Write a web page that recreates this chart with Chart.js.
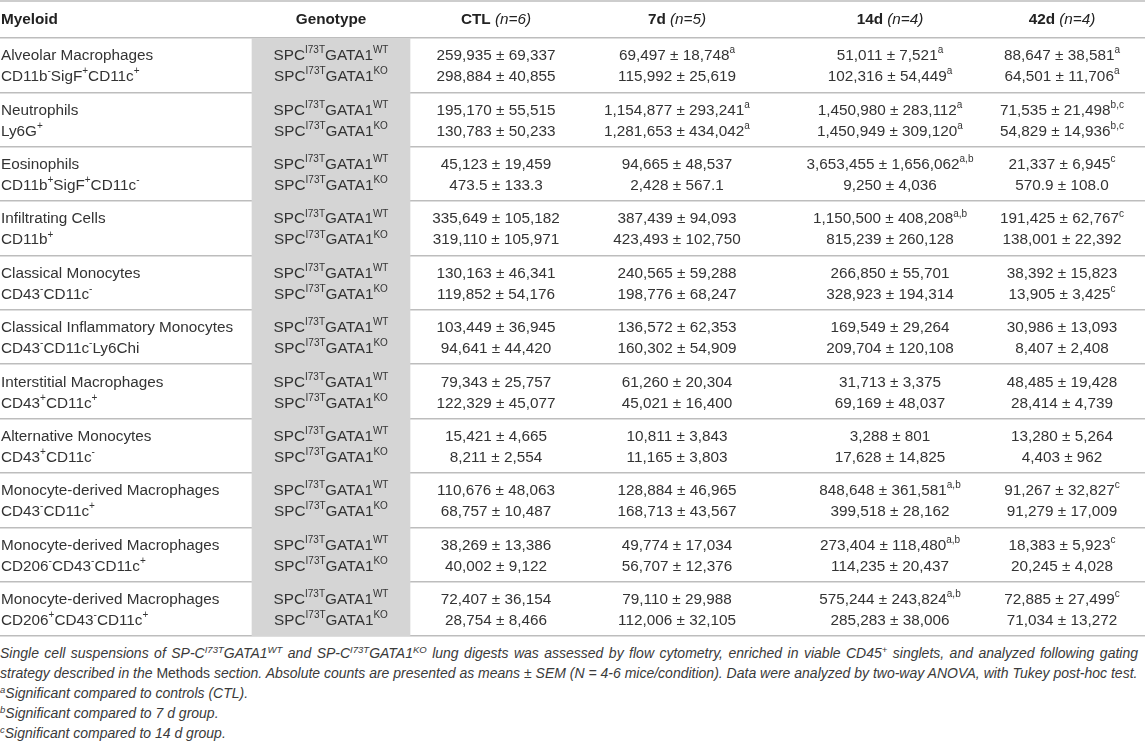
<!DOCTYPE html>
<html lang="en">
<head>
  <meta charset="UTF-8" />
  <title>Myeloid cell counts</title>
  <script src="https://cdn.jsdelivr.net/npm/chart.js"></script>
  <style>
    body { margin: 0; background: #fff; font-family: "Liberation Sans", Arial, sans-serif; }
    .wrap { position: relative; width: 1145px; height: 640px; }
    .caption { margin-top: 3px; width: 1138px; font-size: 14px; line-height: 20px; color: #3a3a3a; white-space: nowrap; }
    .caption .just { white-space: normal; text-align: justify; text-align-last: justify; }
    .caption sup { font-size: 0.68em; line-height: 0; vertical-align: 0.55em; font-style: italic; }
  </style>
</head>
<body>
  <div class="wrap"><canvas id="table"></canvas></div>
  <div class="caption">
    <div class="just"><i>Single cell suspensions of SP-C<sup>I73T</sup>GATA1<sup>WT</sup> and SP-C<sup>I73T</sup>GATA1<sup>KO</sup> lung digests was assessed by flow cytometry, enriched in viable CD45<sup>+</sup> singlets, and analyzed following gating</i></div>
    <div><i>strategy described in the</i> Methods <i>section. Absolute counts are presented as means ± SEM (N = 4-6 mice/condition). Data were analyzed by two-way ANOVA, with Tukey post-hoc test.</i></div>
    <div><sup>a</sup><i>Significant compared to controls (CTL).</i></div>
    <div><sup>b</sup><i>Significant compared to 7 d group.</i></div>
    <div><sup>c</sup><i>Significant compared to 14 d group.</i></div>
  </div>

  <script>
    // ^{...} marks a superscript
    const populations = ['Alveolar Macrophages', 'Neutrophils', 'Eosinophils', 'Infiltrating Cells',
      'Classical Monocytes', 'Classical Inflammatory Monocytes', 'Interstitial Macrophages',
      'Alternative Monocytes', 'Monocyte-derived Macrophages', 'Monocyte-derived Macrophages',
      'Monocyte-derived Macrophages'];
    const markers = ['CD11b^{-}SigF^{+}CD11c^{+}', 'Ly6G^{+}', 'CD11b^{+}SigF^{+}CD11c^{-}', 'CD11b^{+}',
      'CD43^{-}CD11c^{-}', 'CD43^{-}CD11c^{-}Ly6Chi', 'CD43^{+}CD11c^{+}', 'CD43^{+}CD11c^{-}',
      'CD43^{-}CD11c^{+}', 'CD206^{-}CD43^{-}CD11c^{+}', 'CD206^{+}CD43^{-}CD11c^{+}'];
    const genotypes = ['SPC^{I73T}GATA1^{WT}', 'SPC^{I73T}GATA1^{KO}'];
    const timepoints = ['CTL', '7d', '14d', '42d'];
    const groupN = [6, 5, 4, 4];

    // mean ± SEM, per time point, WT row then KO row
    const ctlWT = ['259,935 ± 69,337', '195,170 ± 55,515', '45,123 ± 19,459', '335,649 ± 105,182', '130,163 ± 46,341',
      '103,449 ± 36,945', '79,343 ± 25,757', '15,421 ± 4,665', '110,676 ± 48,063', '38,269 ± 13,386', '72,407 ± 36,154'];
    const ctlKO = ['298,884 ± 40,855', '130,783 ± 50,233', '473.5 ± 133.3', '319,110 ± 105,971', '119,852 ± 54,176',
      '94,641 ± 44,420', '122,329 ± 45,077', '8,211 ± 2,554', '68,757 ± 10,487', '40,002 ± 9,122', '28,754 ± 8,466'];
    const d7WT = ['69,497 ± 18,748^{a}', '1,154,877 ± 293,241^{a}', '94,665 ± 48,537', '387,439 ± 94,093', '240,565 ± 59,288',
      '136,572 ± 62,353', '61,260 ± 20,304', '10,811 ± 3,843', '128,884 ± 46,965', '49,774 ± 17,034', '79,110 ± 29,988'];
    const d7KO = ['115,992 ± 25,619', '1,281,653 ± 434,042^{a}', '2,428 ± 567.1', '423,493 ± 102,750', '198,776 ± 68,247',
      '160,302 ± 54,909', '45,021 ± 16,400', '11,165 ± 3,803', '168,713 ± 43,567', '56,707 ± 12,376', '112,006 ± 32,105'];
    const d14WT = ['51,011 ± 7,521^{a}', '1,450,980 ± 283,112^{a}', '3,653,455 ± 1,656,062^{a,b}', '1,150,500 ± 408,208^{a,b}',
      '266,850 ± 55,701', '169,549 ± 29,264', '31,713 ± 3,375', '3,288 ± 801', '848,648 ± 361,581^{a,b}',
      '273,404 ± 118,480^{a,b}', '575,244 ± 243,824^{a,b}'];
    const d14KO = ['102,316 ± 54,449^{a}', '1,450,949 ± 309,120^{a}', '9,250 ± 4,036', '815,239 ± 260,128', '328,923 ± 194,314',
      '209,704 ± 120,108', '69,169 ± 48,037', '17,628 ± 14,825', '399,518 ± 28,162', '114,235 ± 20,437', '285,283 ± 38,006'];
    const d42WT = ['88,647 ± 38,581^{a}', '71,535 ± 21,498^{b,c}', '21,337 ± 6,945^{c}', '191,425 ± 62,767^{c}', '38,392 ± 15,823',
      '30,986 ± 13,093', '48,485 ± 19,428', '13,280 ± 5,264', '91,267 ± 32,827^{c}', '18,383 ± 5,923^{c}', '72,885 ± 27,499^{c}'];
    const d42KO = ['64,501 ± 11,706^{a}', '54,829 ± 14,936^{b,c}', '570.9 ± 108.0', '138,001 ± 22,392', '13,905 ± 3,425^{c}',
      '8,407 ± 2,408', '28,414 ± 4,739', '4,403 ± 962', '91,279 ± 17,009', '20,245 ± 4,028', '71,034 ± 13,272'];

    const valueCols = [[ctlWT, ctlKO], [d7WT, d7KO], [d14WT, d14KO], [d42WT, d42KO]];

    // layout in x-scale units (table is 1145 wide)
    const TABLE_W = 1145;
    const genoBand = [252, 410];
    const genoCenter = 331;
    const colCenters = [496, 677, 890, 1062];
    const FONT = '"Liberation Sans", Arial, sans-serif';
    const INK = '#333';
    const RULE = '#bdbdbd';

    function parseRich(str) {
      const out = [];
      const re = /\^\{([^}]*)\}/g;
      let last = 0, m;
      while ((m = re.exec(str))) {
        if (m.index > last) out.push({ t: str.slice(last, m.index) });
        out.push({ t: m[1], sup: true });
        last = re.lastIndex;
      }
      if (last < str.length) out.push({ t: str.slice(last) });
      return out;
    }

    function fontFor(seg, size) {
      const s = seg.sup ? Math.round(size * 0.68) : size;
      return (seg.italic ? 'italic ' : '') + (seg.bold ? 'bold ' : '') + s + 'px ' + FONT;
    }

    function drawRich(ctx, segs, x, y, align, size) {
      let w = 0;
      segs.forEach(s => { ctx.font = fontFor(s, size); s.w = ctx.measureText(s.t).width; w += s.w; });
      let cx = align === 'center' ? x - w / 2 : x;
      ctx.textAlign = 'left';
      ctx.textBaseline = 'middle';
      segs.forEach(s => {
        ctx.font = fontFor(s, size);
        ctx.fillText(s.t, cx, s.sup ? y - size * 0.36 : y);
        cx += s.w;
      });
    }

    const tableText = {
      id: 'tableText',
      afterDraw(chart) {
        const { ctx, scales: { x, y } } = chart;
        const size = 15.3;
        ctx.save();

        // top rule and header
        ctx.strokeStyle = RULE;
        ctx.lineWidth = 1.5;
        ctx.beginPath();
        ctx.moveTo(0, 1);
        ctx.lineTo(chart.width, 1);
        ctx.stroke();

        const hy = chart.chartArea.top / 2 + 1;
        ctx.fillStyle = '#222';
        drawRich(ctx, [{ t: 'Myeloid', bold: true }], x.getPixelForValue(1), hy, 'left', size);
        drawRich(ctx, [{ t: 'Genotype', bold: true }], x.getPixelForValue(genoCenter), hy, 'center', size);
        timepoints.forEach((tp, j) => {
          drawRich(ctx, [{ t: tp + ' ', bold: true }, { t: '(n=' + groupN[j] + ')', italic: true }],
            x.getPixelForValue(colCenters[j]), hy, 'center', size);
        });

        ctx.fillStyle = INK;
        populations.forEach((pop, i) => {
          const yc = y.getPixelForValue(i) + 1.5;
          const rows = [yc - 10.5, yc + 10.5];
          drawRich(ctx, [{ t: pop }], x.getPixelForValue(1), rows[0], 'left', size);
          drawRich(ctx, parseRich(markers[i]), x.getPixelForValue(1), rows[1], 'left', size);
          genotypes.forEach((g, k) => {
            drawRich(ctx, parseRich(g), x.getPixelForValue(genoCenter), rows[k], 'center', size);
          });
          valueCols.forEach((pair, j) => {
            pair.forEach((arr, k) => {
              drawRich(ctx, parseRich(arr[i]), x.getPixelForValue(colCenters[j]), rows[k], 'center', size);
            });
          });
        });
        ctx.restore();
      }
    };

    new Chart(document.getElementById('table'), {
      type: 'bar',
      data: {
        labels: populations,
        datasets: [{
          label: 'Genotype',
          data: populations.map(() => genoBand),
          backgroundColor: '#d5d5d5',
          barPercentage: 1,
          categoryPercentage: 1,
          borderWidth: 0
        }]
      },
      options: {
        indexAxis: 'y',
        responsive: true,
        maintainAspectRatio: false,
        animation: false,
        layout: { padding: { top: 38, bottom: 4, left: 0, right: 0 } },
        plugins: { legend: { display: false }, tooltip: { enabled: false } },
        scales: {
          x: { type: 'linear', min: 0, max: TABLE_W, display: false },
          y: {
            type: 'category',
            offset: true,
            z: 1,
            ticks: { display: false },
            border: { display: false },
            grid: { offset: true, drawTicks: false, color: RULE, lineWidth: 1.5 }
          }
        }
      },
      plugins: [tableText]
    });
  </script>
</body>
</html>
